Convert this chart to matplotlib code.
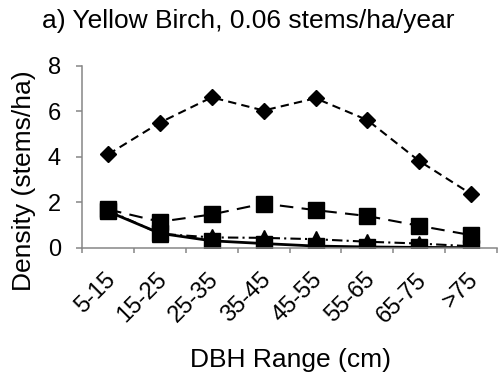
import matplotlib
matplotlib.use("Agg")
import matplotlib.pyplot as plt
from matplotlib.transforms import ScaledTranslation

categories = ["5-15", "15-25", "25-35", "35-45", "45-55", "55-65", "65-75", ">75"]
diamond_vals = [4.11, 5.51, 6.62, 6.04, 6.58, 5.62, 3.82, 2.37]
square_dash_vals = [1.69, 1.15, 1.47, 1.95, 1.66, 1.40, 0.97, 0.56]
triangle_vals = [1.65, 0.62, 0.46, 0.44, 0.38, 0.27, 0.19, 0.07]
square_solid_vals = [1.60, 0.64, 0.31, 0.19, 0.08, 0.04, 0.02, 0.01]
yticks = [0, 2, 4, 6, 8]

plt.rcParams['font.family'] = ['Liberation Sans', 'DejaVu Sans']
plt.rcParams['xtick.labelsize'] = 17
plt.rcParams['ytick.labelsize'] = 17

fig = plt.figure(figsize=(5.01, 3.79), dpi=100)
ax = fig.add_axes([0.164, 0.346, 0.828, 0.480])

x = list(range(len(categories)))
ax.plot(x, diamond_vals, color='black', linestyle=(0, (4, 2.5)), linewidth=1.5,
        marker='D', markersize=8.5)
ax.plot(x, square_dash_vals, color='black', linestyle=(0, (6.5, 4)), linewidth=1.5,
        marker='s', markersize=12)
ax.plot(x, triangle_vals, color='black', linestyle=(0, (5, 2, 1, 2)), linewidth=1.5,
        marker='^', markersize=11)
ax.plot(x, square_solid_vals, color='black', linestyle='-', linewidth=2,
        marker='s', markersize=12)

ax.set_xlim(-0.5, len(categories) - 0.5)
ax.set_ylim(0, 8)
ax.set_yticks(yticks)
ax.set_xticks([i - 0.5 for i in range(len(categories) + 1)])
ax.set_xticklabels([])
ax.set_xticks(x, minor=True)
ax.tick_params(axis='x', which='minor', length=0, pad=15, labelsize=17)
ax.tick_params(axis='x', which='major', length=3.6, width=1.1, color='#868686',
               direction='out')
ax.tick_params(axis='y', length=4.3, width=1.1, color='#868686', labelsize=17, pad=11)
ax.set_xticklabels(categories, minor=True, rotation=45, ha='right',
                   rotation_mode='anchor', fontsize=17)
shift = ScaledTranslation(-0.04, 0, fig.dpi_scale_trans)
for lab in ax.get_xticklabels(minor=True):
    lab.set_transform(lab.get_transform() + shift)

for side in ['top', 'right']:
    ax.spines[side].set_visible(False)
for side in ['left', 'bottom']:
    ax.spines[side].set_color('#868686')
    ax.spines[side].set_linewidth(1.1)

fig.text(0.496, 0.926, "a) Yellow Birch, 0.06 stems/ha/year", fontsize=19,
         ha='center', va='baseline')
fig.text(0.047, 0.524, "Density (stems/ha)", fontsize=19, rotation=90,
         ha='center', va='center')
fig.text(0.579, 0.032, "DBH Range (cm)", fontsize=19, ha='center', va='baseline')

fig.savefig("out.png", dpi=100)
